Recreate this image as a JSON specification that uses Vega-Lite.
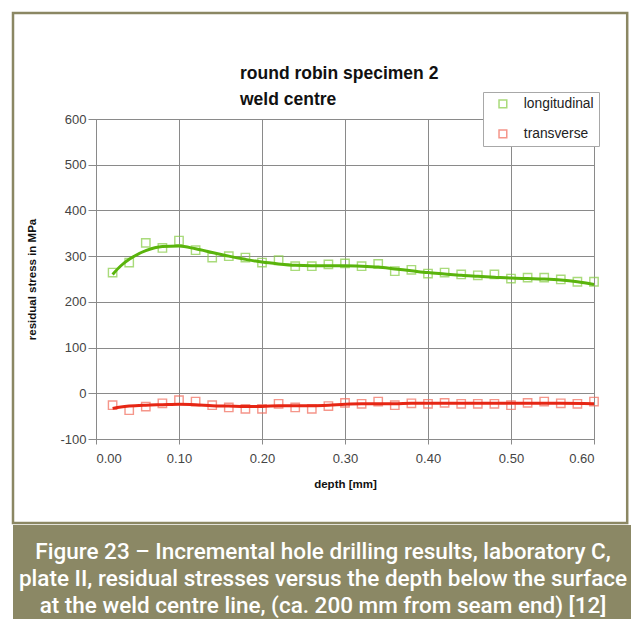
{
  "$schema": "https://vega.github.io/schema/vega-lite/v6.json",
  "background": "white",
  "padding": {"left": 11, "top": 11, "right": 0, "bottom": 0},
  "spacing": 0,
  "datasets": {
    "measured": [
      {"depth": 0.02, "stress": 264, "series": "longitudinal"},
      {"depth": 0.04, "stress": 286, "series": "longitudinal"},
      {"depth": 0.06, "stress": 329, "series": "longitudinal"},
      {"depth": 0.08, "stress": 318, "series": "longitudinal"},
      {"depth": 0.10, "stress": 334, "series": "longitudinal"},
      {"depth": 0.12, "stress": 313, "series": "longitudinal"},
      {"depth": 0.14, "stress": 297, "series": "longitudinal"},
      {"depth": 0.16, "stress": 300, "series": "longitudinal"},
      {"depth": 0.18, "stress": 297, "series": "longitudinal"},
      {"depth": 0.20, "stress": 286, "series": "longitudinal"},
      {"depth": 0.22, "stress": 291, "series": "longitudinal"},
      {"depth": 0.24, "stress": 278, "series": "longitudinal"},
      {"depth": 0.26, "stress": 278, "series": "longitudinal"},
      {"depth": 0.28, "stress": 282, "series": "longitudinal"},
      {"depth": 0.30, "stress": 284, "series": "longitudinal"},
      {"depth": 0.32, "stress": 278, "series": "longitudinal"},
      {"depth": 0.34, "stress": 283, "series": "longitudinal"},
      {"depth": 0.36, "stress": 267, "series": "longitudinal"},
      {"depth": 0.38, "stress": 270, "series": "longitudinal"},
      {"depth": 0.40, "stress": 262, "series": "longitudinal"},
      {"depth": 0.42, "stress": 264, "series": "longitudinal"},
      {"depth": 0.44, "stress": 260, "series": "longitudinal"},
      {"depth": 0.46, "stress": 258, "series": "longitudinal"},
      {"depth": 0.48, "stress": 260, "series": "longitudinal"},
      {"depth": 0.50, "stress": 251, "series": "longitudinal"},
      {"depth": 0.52, "stress": 253, "series": "longitudinal"},
      {"depth": 0.54, "stress": 253, "series": "longitudinal"},
      {"depth": 0.56, "stress": 249, "series": "longitudinal"},
      {"depth": 0.58, "stress": 244, "series": "longitudinal"},
      {"depth": 0.60, "stress": 244, "series": "longitudinal"},
      {"depth": 0.02, "stress": -26, "series": "transverse"},
      {"depth": 0.04, "stress": -37, "series": "transverse"},
      {"depth": 0.06, "stress": -29, "series": "transverse"},
      {"depth": 0.08, "stress": -22, "series": "transverse"},
      {"depth": 0.10, "stress": -15, "series": "transverse"},
      {"depth": 0.12, "stress": -18, "series": "transverse"},
      {"depth": 0.14, "stress": -26, "series": "transverse"},
      {"depth": 0.16, "stress": -31, "series": "transverse"},
      {"depth": 0.18, "stress": -34, "series": "transverse"},
      {"depth": 0.20, "stress": -34, "series": "transverse"},
      {"depth": 0.22, "stress": -23, "series": "transverse"},
      {"depth": 0.24, "stress": -31, "series": "transverse"},
      {"depth": 0.26, "stress": -34, "series": "transverse"},
      {"depth": 0.28, "stress": -28, "series": "transverse"},
      {"depth": 0.30, "stress": -21, "series": "transverse"},
      {"depth": 0.32, "stress": -23, "series": "transverse"},
      {"depth": 0.34, "stress": -18, "series": "transverse"},
      {"depth": 0.36, "stress": -26, "series": "transverse"},
      {"depth": 0.38, "stress": -22, "series": "transverse"},
      {"depth": 0.40, "stress": -23, "series": "transverse"},
      {"depth": 0.42, "stress": -21, "series": "transverse"},
      {"depth": 0.44, "stress": -23, "series": "transverse"},
      {"depth": 0.46, "stress": -23, "series": "transverse"},
      {"depth": 0.48, "stress": -23, "series": "transverse"},
      {"depth": 0.50, "stress": -26, "series": "transverse"},
      {"depth": 0.52, "stress": -21, "series": "transverse"},
      {"depth": 0.54, "stress": -18, "series": "transverse"},
      {"depth": 0.56, "stress": -22, "series": "transverse"},
      {"depth": 0.58, "stress": -23, "series": "transverse"},
      {"depth": 0.60, "stress": -18, "series": "transverse"}
    ],
    "trend": [
      {"depth": 0.02, "stress": 260, "series": "longitudinal"},
      {"depth": 0.03, "stress": 279, "series": "longitudinal"},
      {"depth": 0.04, "stress": 293, "series": "longitudinal"},
      {"depth": 0.06, "stress": 312, "series": "longitudinal"},
      {"depth": 0.08, "stress": 321, "series": "longitudinal"},
      {"depth": 0.10, "stress": 322, "series": "longitudinal"},
      {"depth": 0.12, "stress": 316, "series": "longitudinal"},
      {"depth": 0.14, "stress": 308, "series": "longitudinal"},
      {"depth": 0.16, "stress": 300, "series": "longitudinal"},
      {"depth": 0.18, "stress": 293, "series": "longitudinal"},
      {"depth": 0.20, "stress": 287, "series": "longitudinal"},
      {"depth": 0.22, "stress": 283, "series": "longitudinal"},
      {"depth": 0.24, "stress": 280, "series": "longitudinal"},
      {"depth": 0.26, "stress": 279, "series": "longitudinal"},
      {"depth": 0.28, "stress": 279, "series": "longitudinal"},
      {"depth": 0.30, "stress": 279, "series": "longitudinal"},
      {"depth": 0.32, "stress": 278, "series": "longitudinal"},
      {"depth": 0.34, "stress": 276, "series": "longitudinal"},
      {"depth": 0.36, "stress": 272, "series": "longitudinal"},
      {"depth": 0.38, "stress": 268, "series": "longitudinal"},
      {"depth": 0.40, "stress": 264, "series": "longitudinal"},
      {"depth": 0.42, "stress": 261, "series": "longitudinal"},
      {"depth": 0.44, "stress": 258, "series": "longitudinal"},
      {"depth": 0.46, "stress": 256, "series": "longitudinal"},
      {"depth": 0.48, "stress": 254, "series": "longitudinal"},
      {"depth": 0.50, "stress": 252, "series": "longitudinal"},
      {"depth": 0.52, "stress": 251, "series": "longitudinal"},
      {"depth": 0.54, "stress": 250, "series": "longitudinal"},
      {"depth": 0.56, "stress": 248, "series": "longitudinal"},
      {"depth": 0.58, "stress": 244, "series": "longitudinal"},
      {"depth": 0.60, "stress": 238, "series": "longitudinal"},
      {"depth": 0.02, "stress": -33, "series": "transverse"},
      {"depth": 0.03, "stress": -30, "series": "transverse"},
      {"depth": 0.04, "stress": -28, "series": "transverse"},
      {"depth": 0.06, "stress": -26, "series": "transverse"},
      {"depth": 0.08, "stress": -25, "series": "transverse"},
      {"depth": 0.10, "stress": -24, "series": "transverse"},
      {"depth": 0.12, "stress": -25, "series": "transverse"},
      {"depth": 0.14, "stress": -27, "series": "transverse"},
      {"depth": 0.16, "stress": -28, "series": "transverse"},
      {"depth": 0.18, "stress": -29, "series": "transverse"},
      {"depth": 0.20, "stress": -29, "series": "transverse"},
      {"depth": 0.22, "stress": -27, "series": "transverse"},
      {"depth": 0.24, "stress": -27, "series": "transverse"},
      {"depth": 0.26, "stress": -27, "series": "transverse"},
      {"depth": 0.28, "stress": -26, "series": "transverse"},
      {"depth": 0.30, "stress": -24, "series": "transverse"},
      {"depth": 0.32, "stress": -23, "series": "transverse"},
      {"depth": 0.34, "stress": -23, "series": "transverse"},
      {"depth": 0.36, "stress": -23, "series": "transverse"},
      {"depth": 0.38, "stress": -22, "series": "transverse"},
      {"depth": 0.40, "stress": -22, "series": "transverse"},
      {"depth": 0.44, "stress": -22, "series": "transverse"},
      {"depth": 0.48, "stress": -22, "series": "transverse"},
      {"depth": 0.52, "stress": -22, "series": "transverse"},
      {"depth": 0.56, "stress": -22, "series": "transverse"},
      {"depth": 0.60, "stress": -23, "series": "transverse"}
    ],
    "caption": [
      {"line": 1, "text": "Figure 23 – Incremental hole drilling results, laboratory C,"},
      {"line": 2, "text": "plate II, residual stresses versus the depth below the surface"},
      {"line": 3, "text": "at the weld centre line, (ca. 200 mm from seam end) [12]"}
    ]
  },
  "vconcat": [
    {
      "width": 498,
      "height": 320,
      "title": {
        "text": ["round robin specimen 2", "weld centre"],
        "anchor": "start",
        "frame": "group",
        "dx": 144,
        "offset": -115,
        "baseline": "bottom",
        "font": "Liberation Sans",
        "fontSize": 17.5,
        "fontWeight": "bold",
        "lineHeight": 26,
        "color": "#111"
      },
      "layer": [
        {
          "data": {"values": [{}]},
          "mark": {"type": "rect", "fillOpacity": 0, "stroke": "#8b8763", "strokeWidth": 2.5},
          "encoding": {
            "x": {"datum": -0.1, "type": "quantitative"},
            "x2": {"datum": 0.64},
            "y": {"datum": 832, "type": "quantitative"},
            "y2": {"datum": -284}
          }
        },
        {
          "data": {"name": "measured"},
          "mark": {"type": "point", "shape": "square", "filled": false, "size": 70, "strokeWidth": 1.4},
          "encoding": {
            "x": {"field": "depth", "type": "quantitative"},
            "y": {"field": "stress", "type": "quantitative"},
            "color": {
              "field": "series",
              "type": "nominal",
              "scale": {"domain": ["longitudinal", "transverse"], "range": ["#86cc44", "#f26a5a"]},
              "legend": {
                "title": null,
                "orient": "none",
                "legendX": 387,
                "legendY": -27,
                "strokeColor": "#a8a8a8",
                "fillColor": "white",
                "padding": 5,
                "rowPadding": 15,
                "symbolOffset": 8,
                "symbolSize": 60,
                "symbolStrokeWidth": 1.5,
                "labelFont": "Liberation Sans",
                "labelFontSize": 13.8,
                "labelColor": "#222",
                "labelOffset": 14
              }
            }
          }
        },
        {
          "data": {"name": "trend"},
          "mark": {"type": "line", "interpolate": "monotone", "strokeWidth": 3},
          "encoding": {
            "x": {"field": "depth", "type": "quantitative"},
            "y": {"field": "stress", "type": "quantitative"},
            "color": {
              "field": "series",
              "type": "nominal",
              "scale": {"domain": ["longitudinal", "transverse"], "range": ["#5ab40c", "#e62614"]},
              "legend": null
            }
          }
        }
      ],
      "resolve": {"scale": {"color": "independent"}},
      "encoding": {
        "x": {
          "type": "quantitative",
          "scale": {"domain": [0, 0.6], "nice": false, "zero": false},
          "axis": {
            "title": "depth [mm]",
            "values": [0, 0.1, 0.2, 0.3, 0.4, 0.5, 0.6],
            "format": ".2f",
            "tickSize": 5,
            "labelPadding": 8,
            "titlePadding": 13
          }
        },
        "y": {
          "type": "quantitative",
          "scale": {"domain": [-100, 600], "nice": false, "zero": false},
          "axis": {
            "title": "residual stress in MPa",
            "values": [-100, 0, 100, 200, 300, 400, 500, 600],
            "labelExpr": "replace(datum.label, '−', '-')",
            "tickSize": 8,
            "labelPadding": 2,
            "titlePadding": 22
          }
        }
      }
    },
    {
      "width": 498,
      "height": 96,
      "view": {"stroke": null},
      "layer": [
        {
          "data": {"values": [{}]},
          "mark": {"type": "rect", "color": "#8b8865"},
          "encoding": {
            "x": {"datum": -0.1, "type": "quantitative", "scale": {"domain": [0, 0.6], "nice": false, "zero": false}, "axis": null},
            "x2": {"datum": 0.6458}
          }
        },
        {
          "data": {"name": "caption"},
          "mark": {"type": "text", "color": "white", "font": "Roboto", "fontSize": 22.5, "fontWeight": 500, "baseline": "alphabetic", "dy": 13},
          "encoding": {
            "x": {"datum": 0.2735, "type": "quantitative", "axis": null},
            "y": {"field": "line", "type": "ordinal", "axis": null, "scale": {"padding": 0.8}},
            "text": {"field": "text"}
          }
        }
      ]
    }
  ],
  "config": {
    "font": "Liberation Sans",
    "view": {"stroke": "#8a8a8a", "strokeWidth": 1},
    "axis": {
      "grid": true,
      "gridColor": "#8a8a8a",
      "gridOpacity": 1,
      "gridWidth": 1,
      "domainColor": "#8a8a8a",
      "tickColor": "#8a8a8a",
      "labelFont": "Liberation Sans",
      "labelFontSize": 13,
      "labelColor": "#444",
      "titleFont": "Liberation Sans",
      "titleFontSize": 11.5,
      "titleFontWeight": "bold",
      "titleColor": "#111"
    }
  }
}
